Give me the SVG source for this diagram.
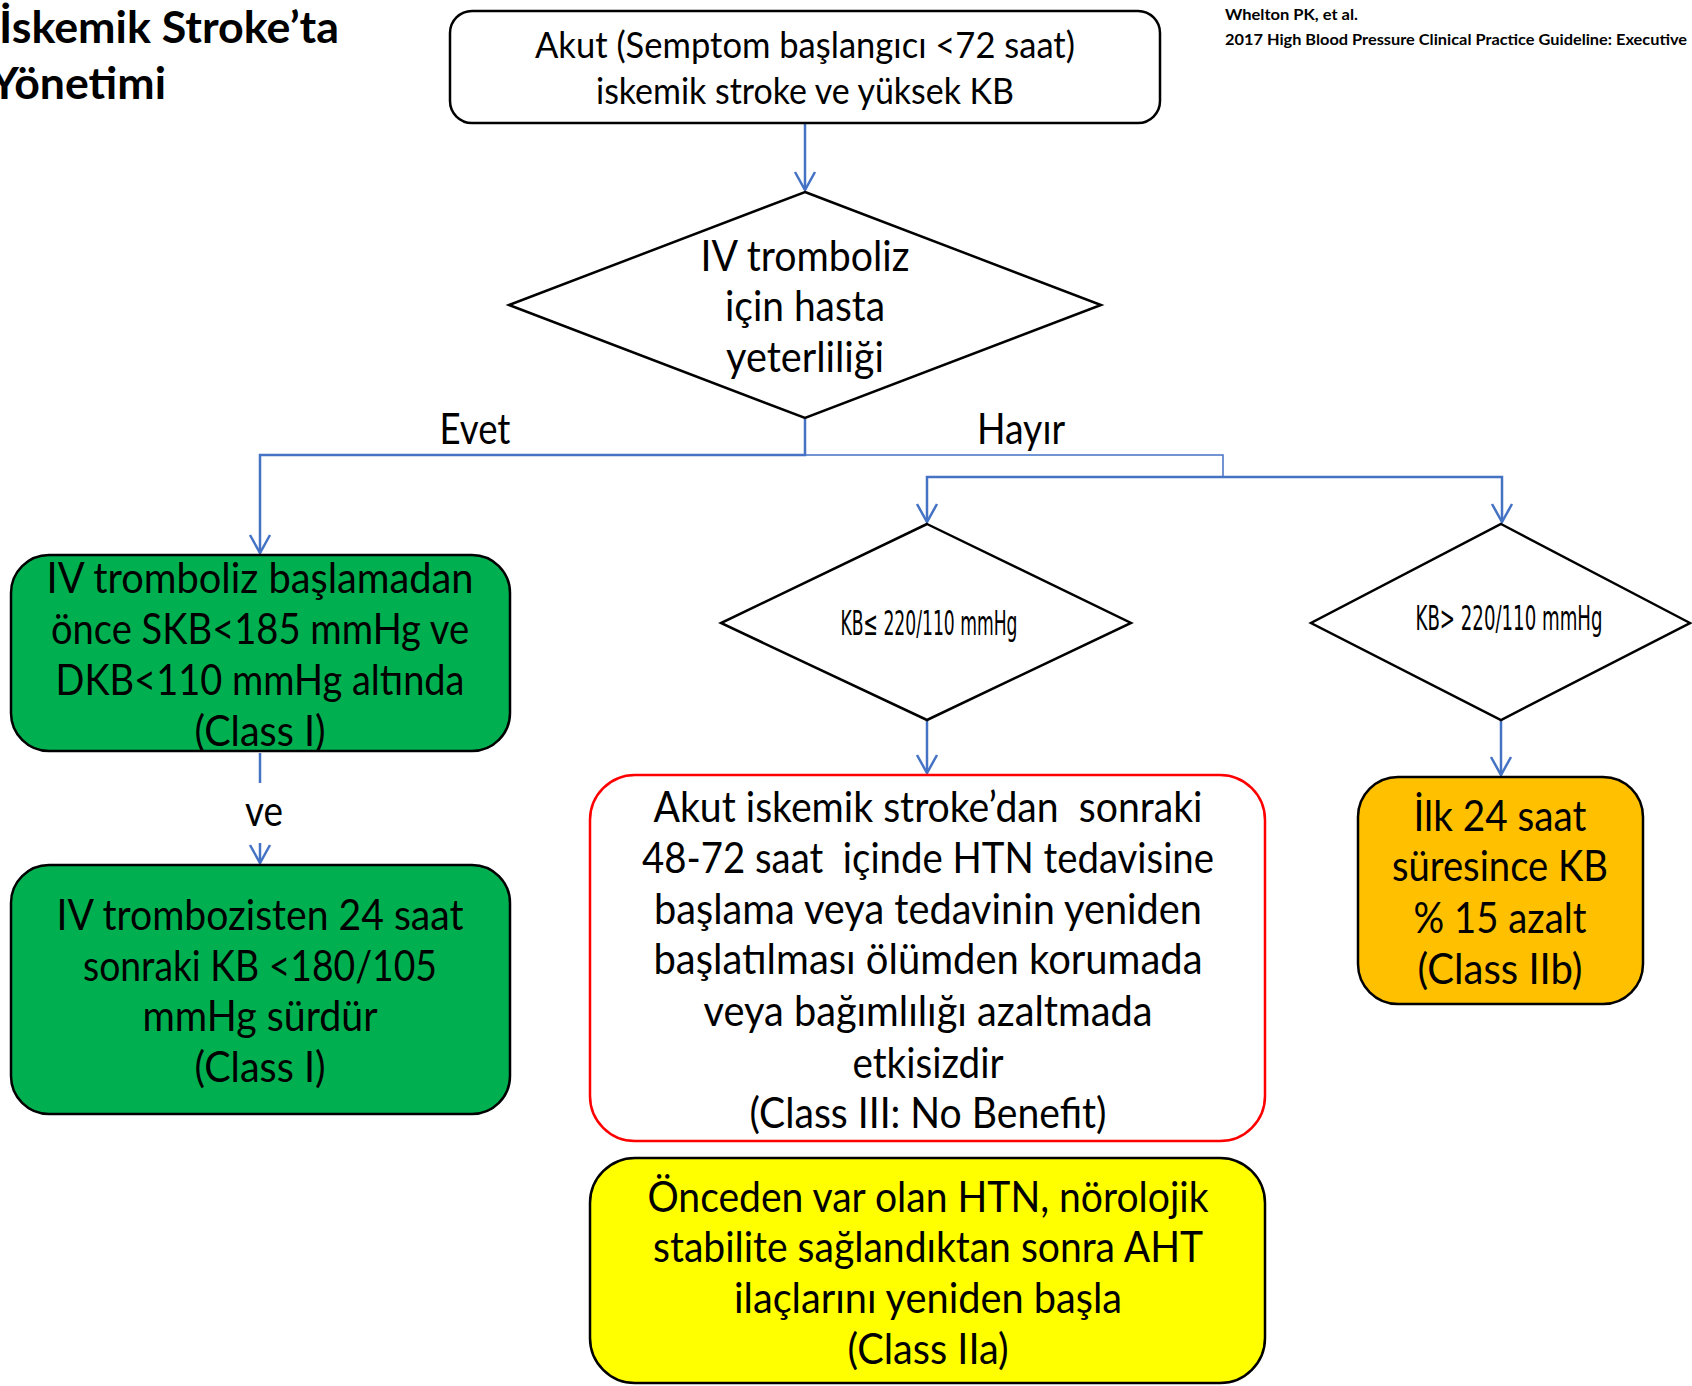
<svg xmlns="http://www.w3.org/2000/svg" width="1692" height="1386" viewBox="0 0 1692 1386">
<style>
text{font-family:Lato,"Open Sans","Liberation Sans",sans-serif;fill:#000}
.t{font-size:42px;text-anchor:middle}
.top{font-size:37px;text-anchor:middle}
.dm{font-size:34px;text-anchor:middle;font-family:"DejaVu Sans Condensed","Liberation Sans Narrow",Lato,sans-serif}
.title{font-size:44px;font-weight:bold}
.cite{font-size:16px;font-weight:bold}
.box{stroke:#000;stroke-width:2.5}
.c{fill:none;stroke:#4472C4;stroke-width:2.5}
.thin{fill:none;stroke:#4472C4;stroke-width:1.5}
.a{marker-end:url(#ar)}
</style>
<defs>
<marker id="ar" markerUnits="userSpaceOnUse" viewBox="-20 -12 22 24" markerWidth="22" markerHeight="24" refX="0" refY="0" orient="auto">
<path d="M-18,-10 L0,0 L-18,10" fill="none" stroke="#4472C4" stroke-width="2.5"/>
</marker>
</defs>
<g id="title">
<text class="title" x="-1" y="43" textLength="340" lengthAdjust="spacingAndGlyphs">İskemik Stroke’ta</text>
<text class="title" x="-10" y="99" textLength="176" lengthAdjust="spacingAndGlyphs">Yönetimi</text>
</g>
<g id="citation">
<text class="cite" x="1225" y="20" textLength="133" lengthAdjust="spacingAndGlyphs">Whelton PK, et al.</text>
<text class="cite" x="1225" y="45" textLength="462" lengthAdjust="spacingAndGlyphs">2017 High Blood Pressure Clinical Practice Guideline: Executive</text>
</g>
<g id="connectors">
<path class="c a" d="M805,123 V190"/>
<path class="c a" d="M805,418 V455 H260 V553"/>
<path class="thin" d="M805,455 H1223 V477"/>
<path class="c a" d="M1223,477 H927 V522"/>
<path class="c a" d="M1223,477 H1502 V522"/>
<path class="c a" d="M927,720 V773"/>
<path class="c a" d="M1501,720 V775"/>
<path class="c" d="M260,753 V783"/>
<path class="c a" d="M260,843 V863"/>
</g>
<g id="labels">
<text class="t" x="475" y="444" font-size="40" textLength="71" lengthAdjust="spacingAndGlyphs">Evet</text>
<text class="t" x="1021" y="444" font-size="40" textLength="88" lengthAdjust="spacingAndGlyphs">Hayır</text>
<text class="t" x="264" y="826" textLength="38" lengthAdjust="spacingAndGlyphs">ve</text>
</g>
<g id="start">
<rect class="box" x="450" y="11" width="710" height="112" rx="22" fill="#fff"/>
<text class="top" x="805" y="58" textLength="540" lengthAdjust="spacingAndGlyphs">Akut (Semptom başlangıcı &lt;72 saat)</text>
<text class="top" x="805" y="104" textLength="418" lengthAdjust="spacingAndGlyphs">iskemik stroke ve yüksek KB</text>
</g>
<g id="decision1">
<polygon class="box" points="805,192 1101,305 805,418 509,305" fill="#fff"/>
<text class="t" x="805" y="271" textLength="209" lengthAdjust="spacingAndGlyphs">IV tromboliz</text>
<text class="t" x="805" y="321" textLength="160" lengthAdjust="spacingAndGlyphs">için hasta</text>
<text class="t" x="805" y="372" textLength="158" lengthAdjust="spacingAndGlyphs">yeterliliği</text>
</g>
<g id="green1">
<rect class="box" x="11" y="555" width="499" height="196" rx="38" fill="#00B050"/>
<text class="t" x="260" y="593" textLength="427" lengthAdjust="spacingAndGlyphs">IV tromboliz başlamadan</text>
<text class="t" x="260" y="644" textLength="418" lengthAdjust="spacingAndGlyphs">önce SKB&lt;185 mmHg ve</text>
<text class="t" x="260" y="695" textLength="409" lengthAdjust="spacingAndGlyphs">DKB&lt;110 mmHg altında</text>
<text class="t" x="260" y="746" textLength="131" lengthAdjust="spacingAndGlyphs">(Class I)</text>
</g>
<g id="green2">
<rect class="box" x="11" y="865" width="499" height="249" rx="38" fill="#00B050"/>
<text class="t" x="260" y="930" textLength="407" lengthAdjust="spacingAndGlyphs">IV trombozisten 24 saat</text>
<text class="t" x="260" y="981" textLength="354" lengthAdjust="spacingAndGlyphs">sonraki KB &lt;180/105</text>
<text class="t" x="260" y="1031" textLength="235" lengthAdjust="spacingAndGlyphs">mmHg sürdür</text>
<text class="t" x="260" y="1082" textLength="131" lengthAdjust="spacingAndGlyphs">(Class I)</text>
</g>
<g id="decision2">
<polygon class="box" points="927,524 1131,623 927,720 721,623" fill="#fff"/>
<text class="dm" x="929" y="635" textLength="177" lengthAdjust="spacingAndGlyphs">KB≤ 220/110 mmHg</text>
</g>
<g id="decision3">
<polygon class="box" points="1501,524 1690,623 1501,720 1311,623" fill="#fff"/>
<text class="dm" x="1509" y="630" textLength="187" lengthAdjust="spacingAndGlyphs">KB&gt; 220/110 mmHg</text>
</g>
<g id="red">
<rect x="590" y="775" width="675" height="366" rx="45" fill="#fff" stroke="#FF0000" stroke-width="2.5"/>
<text class="t" x="928" y="822" textLength="549" lengthAdjust="spacingAndGlyphs" xml:space="preserve">Akut iskemik stroke’dan  sonraki</text>
<text class="t" x="928" y="873" textLength="572" lengthAdjust="spacingAndGlyphs" xml:space="preserve">48-72 saat  içinde HTN tedavisine</text>
<text class="t" x="928" y="924" textLength="548" lengthAdjust="spacingAndGlyphs">başlama veya tedavinin yeniden</text>
<text class="t" x="928" y="974" textLength="549" lengthAdjust="spacingAndGlyphs">başlatılması ölümden korumada</text>
<text class="t" x="928" y="1026" textLength="449" lengthAdjust="spacingAndGlyphs">veya bağımlılığı azaltmada</text>
<text class="t" x="928" y="1078" textLength="151" lengthAdjust="spacingAndGlyphs">etkisizdir</text>
<text class="t" x="928" y="1128" textLength="357" lengthAdjust="spacingAndGlyphs">(Class III: No Benefit)</text>
</g>
<g id="yellow">
<rect class="box" x="590" y="1158" width="675" height="225" rx="45" fill="#FFFF00"/>
<text class="t" x="928" y="1212" textLength="561" lengthAdjust="spacingAndGlyphs">Önceden var olan HTN, nörolojik</text>
<text class="t" x="928" y="1262" textLength="550" lengthAdjust="spacingAndGlyphs">stabilite sağlandıktan sonra AHT</text>
<text class="t" x="928" y="1313" textLength="388" lengthAdjust="spacingAndGlyphs">ilaçlarını yeniden başla</text>
<text class="t" x="928" y="1364" textLength="161" lengthAdjust="spacingAndGlyphs">(Class IIa)</text>
</g>
<g id="orange">
<rect class="box" x="1358" y="777" width="285" height="227" rx="40" fill="#FFC000"/>
<text class="t" x="1500" y="831" textLength="173" lengthAdjust="spacingAndGlyphs">İlk 24 saat</text>
<text class="t" x="1500" y="881" textLength="216" lengthAdjust="spacingAndGlyphs">süresince KB</text>
<text class="t" x="1500" y="933" textLength="173" lengthAdjust="spacingAndGlyphs">% 15 azalt</text>
<text class="t" x="1500" y="984" textLength="165" lengthAdjust="spacingAndGlyphs">(Class IIb)</text>
</g>
</svg>
